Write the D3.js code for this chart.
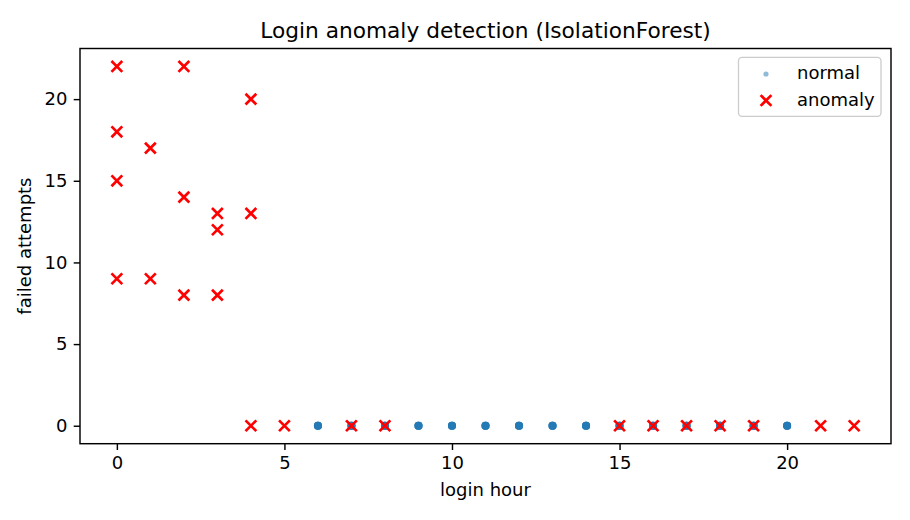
<!DOCTYPE html>
<html><head><meta charset="utf-8">
<script src="https://cdn.jsdelivr.net/npm/d3@7/dist/d3.min.js"></script>
<style>body{margin:0;background:#fff}svg{display:block;font-family:"DejaVu Sans",sans-serif}</style>
</head><body><svg id="c" width="910" height="520"></svg>
<script>
const normalHours = [6,7,8,9,10,11,12,13,14,15,16,17,18,19,20];
const normalFailed = [0,0,0,0,0,0,0,0,0,0,0,0,0,0,0];
const normalCounts = [6,6,6,6,6,6,6,6,6,6,6,6,6,6,6];
const anomalyHours = [0,0,0,0,1,1,2,2,2,3,3,3,4,4,4,5,7,8,15,16,17,18,19,21,22];
const anomalyFailed = [22,18,15,9,17,9,22,14,8,13,12,8,20,13,0,0,0,0,0,0,0,0,0,0,0];
const xTicks = [0,5,10,15,20];
const yTicks = [0,5,10,15,20];

const svg = d3.select("#c");
const L=80, R=891, T=48.5, B=443.7;
const FS = 18;
const x = d3.scaleLinear().domain([-1.1,23.1]).range([L,R]);
const y = d3.scaleLinear().domain([-1.1,23.1]).range([B,T]);

const normalPts = [];
normalHours.forEach((h,i)=>{ for(let k=0;k<normalCounts[i];k++) normalPts.push([h, normalFailed[i]]); });

svg.append("g").selectAll("circle").data(normalPts).join("circle")
  .attr("cx",d=>x(d[0])).attr("cy",d=>y(d[1])).attr("r",4)
  .attr("fill","#1f77b4").attr("fill-opacity",0.5);

const xs = 5.4;
svg.append("g").selectAll("path").data(anomalyHours.map((h,i)=>[h,anomalyFailed[i]])).join("path")
  .attr("d",d=>{const cx=x(d[0]), cy=y(d[1]); return `M${cx-xs},${cy-xs}L${cx+xs},${cy+xs}M${cx-xs},${cy+xs}L${cx+xs},${cy-xs}`;})
  .attr("stroke","#ff0000").attr("stroke-width",2.7).attr("fill","none");

// axes
const xa = svg.append("g").attr("transform",`translate(0,${B})`)
  .call(d3.axisBottom(x).tickValues(xTicks).tickSize(6.3).tickPadding(6.3).tickFormat(d3.format("d")));
const ya = svg.append("g").attr("transform",`translate(${L},0)`)
  .call(d3.axisLeft(y).tickValues(yTicks).tickSize(6.3).tickPadding(6.3).tickFormat(d3.format("d")));
[xa,ya].forEach(a=>{a.select(".domain").remove(); a.selectAll("text").attr("font-size",FS).attr("fill","#000").attr("font-family","DejaVu Sans"); a.selectAll("line").attr("stroke","#000").attr("stroke-width",1.44);});

svg.append("rect").attr("x",L).attr("y",T).attr("width",R-L).attr("height",B-T)
  .attr("fill","none").attr("stroke","#000").attr("stroke-width",1.44);

svg.append("text").attr("x",(L+R)/2).attr("y",T-10.8).attr("text-anchor","middle")
  .attr("font-size",21.7).text("Login anomaly detection (IsolationForest)");
svg.append("text").attr("x",(L+R)/2).attr("y",496).attr("text-anchor","middle")
  .attr("font-size",FS).text("login hour");
svg.append("text").attr("transform",`translate(30.5,${(T+B)/2}) rotate(-90)`).attr("text-anchor","middle")
  .attr("font-size",FS).text("failed attempts");

// legend
const lg = svg.append("g");
lg.append("rect").attr("x",738.5).attr("y",57.3).attr("width",142.5).attr("height",59).attr("rx",3.6)
  .attr("fill","#fff").attr("fill-opacity",0.8).attr("stroke","#cccccc").attr("stroke-width",1.3);
lg.append("circle").attr("cx",766).attr("cy",74).attr("r",2.6).attr("fill","#1f77b4").attr("fill-opacity",0.5);
const lx=766, ly=100.5, ls=5.4;
lg.append("path").attr("d",`M${lx-ls},${ly-ls}L${lx+ls},${ly+ls}M${lx-ls},${ly+ls}L${lx+ls},${ly-ls}`)
  .attr("stroke","#ff0000").attr("stroke-width",2.7);
lg.append("text").attr("x",797).attr("y",79).attr("font-size",FS).text("normal");
lg.append("text").attr("x",797).attr("y",105.5).attr("font-size",FS).text("anomaly");
</script></body></html>
